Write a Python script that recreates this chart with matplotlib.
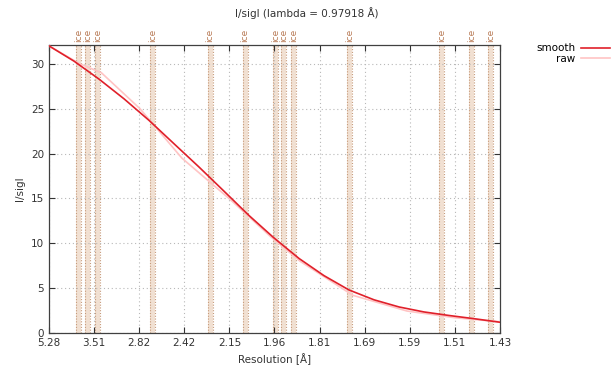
import numpy as np
import matplotlib
matplotlib.use('Agg')
import matplotlib.pyplot as plt

# x axis is 1/d^2, labelled with resolution d
res_ticks = ['5.28', '3.51', '2.82', '2.42', '2.15', '1.96', '1.81', '1.69', '1.59', '1.51', '1.43']
d_max, d_min = 5.28, 1.43

# smooth curve (resolution in A, I/sigI)
smooth_d = [5.280, 4.049, 3.408, 2.998, 2.708, 2.489, 2.315, 2.173, 2.055, 1.954,
            1.866, 1.790, 1.722, 1.661, 1.606, 1.557, 1.511, 1.470, 1.430]
smooth_i = [32.0, 30.3, 28.3, 26.1, 23.7, 21.1, 18.5, 15.8, 13.1, 10.6,
            8.3, 6.4, 4.8, 3.7, 2.9, 2.35, 1.95, 1.6, 1.2]

# raw binned values
raw_d = [5.28, 3.863, 3.36, 2.803, 2.43, 2.143, 1.969, 1.863, 1.712, 1.590, 1.501, 1.430]
raw_i = [32.0, 30.0, 29.0, 25.0, 19.5, 14.9, 10.8, 8.0, 4.2, 2.45, 1.7, 1.25]

# ice ring resolutions
ice_d = [3.897, 3.669, 3.441, 2.671, 2.249, 2.072, 1.948, 1.918, 1.883, 1.721, 1.525, 1.473, 1.444]
ice_half_width = 0.0025


def inv_d2(d):
    return 1.0 / np.asarray(d, dtype=float) ** 2


fig = plt.figure(figsize=(6.14, 3.74), dpi=100)
ax = fig.add_axes([0.0798, 0.1096, 0.7345, 0.7701])

x_lo, x_hi = inv_d2(d_max), inv_d2(d_min)

# ice rings
for d in ice_d:
    q = inv_d2(d)
    ax.axvspan(q - ice_half_width, q + ice_half_width, color='#f1e0d2', lw=0, zorder=1)
    for edge in (q - ice_half_width, q + ice_half_width):
        ax.axvline(edge, color='#c69a7a', lw=0.8, ls=(0, (1, 1.5)), zorder=1)
    ax.text(q, 1.012, 'ice', transform=ax.get_xaxis_transform(), rotation=90,
            ha='center', va='bottom', fontsize=6.5, color='#b87a55')

ax.plot(inv_d2(raw_d), raw_i, color='#ffc4c4', lw=1.2, label='raw', zorder=3)
ax.plot(inv_d2(smooth_d), smooth_i, color='#e0202a', lw=1.2, label='smooth', zorder=4)

ax.set_xlim(x_lo, x_hi)
ax.set_ylim(0, 32.1)
ax.set_xticks(np.linspace(x_lo, x_hi, len(res_ticks)))
ax.set_xticklabels(res_ticks)
ax.set_yticks(range(0, 31, 5))

ax.grid(True, color='#b8b8b8', ls=(0, (1, 2.5)), lw=0.8)
ax.tick_params(direction='in', labelsize=7.5, colors='#333333', length=4,
               top=True, right=True, labelcolor='#333333')
for s in ax.spines.values():
    s.set_color('#404040')
    s.set_linewidth(0.9)

ax.set_xlabel('Resolution [Å]', fontsize=7.5, color='#333333')
ax.set_ylabel('I/sigI', fontsize=7.5, color='#333333')
fig.text(0.5, 0.965, 'I/sigI (lambda = 0.97918 Å)', ha='center', va='center',
         fontsize=7.5, color='#333333')

handles, labels = ax.get_legend_handles_labels()
fig.legend(handles[::-1], labels[::-1], loc='upper right', bbox_to_anchor=(1.0, 0.895),
           markerfirst=False, frameon=False, fontsize=7.5, handlelength=2.8,
           labelspacing=0.05, borderaxespad=0, handletextpad=0.5)

fig.savefig('out.png', dpi=100)
